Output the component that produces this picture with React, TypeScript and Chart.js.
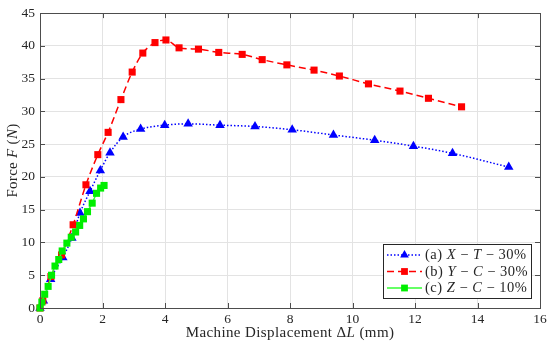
import React, { useEffect, useRef } from "react";
import { Chart, registerables } from "chart.js";

Chart.register(...registerables);

// (a) X - T - 30%
const blueX = [0, 0.11, 0.34, 0.73, 1.02, 1.28, 1.6, 1.93, 2.24, 2.66, 3.22, 3.99, 4.74, 5.76, 6.88, 8.07, 9.39, 10.71, 11.95, 13.2, 15.0];
const blueY = [0, 1.1, 4.4, 7.7, 10.7, 14.5, 17.8, 21.0, 23.7, 26.1, 27.3, 27.9, 28.1, 27.9, 27.7, 27.2, 26.4, 25.6, 24.7, 23.6, 21.5];
// (b) Y - C - 30%
const redX = [0, 0.09, 0.35, 0.69, 1.06, 1.47, 1.85, 2.18, 2.59, 2.95, 3.29, 3.68, 4.03, 4.45, 5.07, 5.72, 6.47, 7.11, 7.9, 8.77, 9.58, 10.51, 11.52, 12.43, 13.49];
const redY = [0, 1.1, 4.8, 8.1, 12.7, 18.8, 23.4, 26.8, 31.8, 36.0, 38.9, 40.5, 40.9, 39.7, 39.5, 39.0, 38.7, 37.9, 37.1, 36.3, 35.4, 34.2, 33.1, 32.0, 30.7];
// (c) Z - C - 10%
const greenX = [0, 0.06, 0.15, 0.26, 0.37, 0.48, 0.6, 0.71, 0.86, 1.0, 1.14, 1.27, 1.39, 1.52, 1.67, 1.81, 1.94, 2.05];
const greenY = [0, 0.9, 2.1, 3.3, 5.0, 6.4, 7.4, 8.7, 9.9, 10.8, 11.6, 12.6, 13.6, 14.7, 16.0, 17.5, 18.3, 18.7];

const xMin = 0, xMax = 16, xStep = 2;
const yMin = 0, yMax = 45, yStep = 5;

type Seg = [string, boolean];
const legendItems: { segs: Seg[]; color: string; dash: number[]; marker: string; mcolor: string }[] = [
  { segs: [["(a) ", false], ["X", true], [" \u2212 ", false], ["T", true], [" \u2212 30%", false]], color: "#0000ff", dash: [1.5, 2], marker: "triangle", mcolor: "#0000ff" },
  { segs: [["(b) ", false], ["Y", true], [" \u2212 ", false], ["C", true], [" \u2212 30%", false]], color: "#ff0000", dash: [7, 4], marker: "rect", mcolor: "#ff0000" },
  { segs: [["(c) ", false], ["Z", true], [" \u2212 ", false], ["C", true], [" \u2212 10%", false]], color: "#33ff33", dash: [], marker: "rect", mcolor: "#00ee00" },
];

const xTitle: Seg[] = [["Machine Displacement \u0394", false], ["L", true], [" (mm)", false]];
const yTitle: Seg[] = [["Force ", false], ["F", true], [" (", false], ["N", true], [")", false]];

const FONT = "'Liberation Serif', serif";

function drawSegs(ctx: CanvasRenderingContext2D, segs: Seg[], x: number, y: number, size: number, align: "left" | "center", spacing: number) {
  (ctx as any).letterSpacing = `${spacing}px`;
  let total = 0;
  const widths = segs.map(([t, it]) => {
    ctx.font = `${it ? "italic " : ""}${size}px ${FONT}`;
    const w = ctx.measureText(t).width;
    total += w;
    return w;
  });
  let cx = align === "center" ? x - total / 2 : x;
  segs.forEach(([t, it], i) => {
    ctx.font = `${it ? "italic " : ""}${size}px ${FONT}`;
    ctx.textAlign = "left";
    ctx.fillText(t, cx, y);
    cx += widths[i];
  });
  (ctx as any).letterSpacing = "0px";
}

function drawMarker(ctx: CanvasRenderingContext2D, kind: string, x: number, y: number, color: string) {
  ctx.save();
  ctx.fillStyle = color;
  ctx.beginPath();
  if (kind === "triangle") {
    const r = 5;
    ctx.moveTo(x, y - r);
    ctx.lineTo(x + r * 0.866, y + r / 2);
    ctx.lineTo(x - r * 0.866, y + r / 2);
    ctx.closePath();
  } else {
    const s = 3.4;
    ctx.rect(x - s, y - s, 2 * s, 2 * s);
  }
  ctx.fill();
  ctx.restore();
}

const framePlugin = {
  id: "frame",
  afterDraw(chart: any) {
    const { ctx, chartArea: a, scales } = chart;
    ctx.save();
    ctx.strokeStyle = "#4d4d4d";
    ctx.lineWidth = 1;
    const tl = 5;
    ctx.beginPath();
    for (let v = xMin; v <= xMax; v += xStep) {
      const px = Math.round(scales.x.getPixelForValue(v)) + 0.5;
      ctx.moveTo(px, a.bottom);
      ctx.lineTo(px, a.bottom - tl);
      ctx.moveTo(px, a.top);
      ctx.lineTo(px, a.top + tl);
    }
    for (let v = yMin; v <= yMax; v += yStep) {
      const py = Math.round(scales.y.getPixelForValue(v)) + 0.5;
      ctx.moveTo(a.left, py);
      ctx.lineTo(a.left + tl, py);
      ctx.moveTo(a.right, py);
      ctx.lineTo(a.right - tl, py);
    }
    ctx.stroke();
    ctx.strokeRect(Math.round(a.left) + 0.5, Math.round(a.top) + 0.5, Math.round(a.right - a.left), Math.round(a.bottom - a.top));

    ctx.fillStyle = "#262626";
    ctx.textBaseline = "middle";
    drawSegs(ctx, xTitle, (a.left + a.right) / 2, 333, 15, "center", 0.4);
    ctx.save();
    ctx.translate(13, (a.top + a.bottom) / 2);
    ctx.rotate(-Math.PI / 2);
    drawSegs(ctx, yTitle, 0, 0, 15, "center", 0.3);
    ctx.restore();

    const lx = 383.5, ly = 244.5, lw = 148, lh = 54;
    ctx.fillStyle = "#ffffff";
    ctx.fillRect(lx, ly, lw, lh);
    ctx.strokeStyle = "#262626";
    ctx.strokeRect(lx, ly, lw, lh);
    const rows = [255, 271.5, 288];
    legendItems.forEach((it, i) => {
      const y = rows[i];
      ctx.save();
      ctx.strokeStyle = it.color;
      ctx.lineWidth = 1.5;
      ctx.setLineDash(it.dash);
      ctx.beginPath();
      ctx.moveTo(387, y);
      ctx.lineTo(422, y);
      ctx.stroke();
      ctx.restore();
      drawMarker(ctx, it.marker, 404.5, y, it.mcolor);
      ctx.fillStyle = "#262626";
      ctx.textBaseline = "middle";
      drawSegs(ctx, it.segs, 425, y + 0.5, 14.5, "left", 0.5);
    });
    ctx.restore();
  },
};

export default function App() {
  const ref = useRef<HTMLCanvasElement | null>(null);
  useEffect(() => {
    if (!ref.current) return;
    const mk = (xs: number[], ys: number[]) => xs.map((x, i) => ({ x, y: ys[i] }));
    const chart = new Chart(ref.current, {
      type: "line",
      data: {
        datasets: [
          {
            label: "(a) X - T - 30%",
            data: mk(blueX, blueY),
            borderColor: "#0000ff",
            backgroundColor: "#0000ff",
            borderWidth: 1.5,
            borderDash: [1.5, 2],
            pointStyle: "triangle",
            pointRadius: 5.5,
            pointHoverRadius: 5.5,
            pointBorderWidth: 0,
            cubicInterpolationMode: "monotone",
            order: 3,
          },
          {
            label: "(b) Y - C - 30%",
            data: mk(redX, redY),
            borderColor: "#ff0000",
            backgroundColor: "#ff0000",
            borderWidth: 1.5,
            borderDash: [7, 4],
            pointStyle: "rect",
            pointRadius: 5,
            pointHoverRadius: 5,
            pointBorderWidth: 0,
            cubicInterpolationMode: "monotone",
            order: 2,
          },
          {
            label: "(c) Z - C - 10%",
            data: mk(greenX, greenY),
            borderColor: "#33ff33",
            backgroundColor: "#00ee00",
            borderWidth: 1.5,
            pointStyle: "rect",
            pointRadius: 5,
            pointHoverRadius: 5,
            pointBorderWidth: 0,
            cubicInterpolationMode: "monotone",
            order: 1,
          },
        ],
      },
      options: {
        animation: false,
        responsive: false,
        events: [],
        layout: { padding: { top: 9, right: 10, left: 0, bottom: 0 } },
        plugins: { legend: { display: false }, tooltip: { enabled: false }, title: { display: false } },
        datasets: { line: { clip: false as any } },
        scales: {
          x: {
            type: "linear",
            min: xMin,
            max: xMax,
            ticks: { stepSize: xStep, color: "#262626", font: { family: FONT, size: 13.5 }, padding: 3, maxRotation: 0 },
            grid: { color: "#e3e3e3", drawTicks: false },
            border: { display: false },
            afterFit: (s: any) => { s.height = 38; },
          },
          y: {
            type: "linear",
            min: yMin,
            max: yMax,
            ticks: { stepSize: yStep, color: "#262626", font: { family: FONT, size: 13.5 }, padding: 5 },
            grid: { color: "#e3e3e3", drawTicks: false },
            border: { display: false },
            afterFit: (s: any) => { s.width = 40; },
          },
        },
      },
      plugins: [framePlugin],
    });
    return () => chart.destroy();
  }, []);
  return (
    <div style={{ position: "absolute", left: 0, top: 0, width: 550, height: 346, background: "#fff" }}>
      <canvas ref={ref} width={550} height={346} style={{ width: 550, height: 346, display: "block" }} />
    </div>
  );
}
